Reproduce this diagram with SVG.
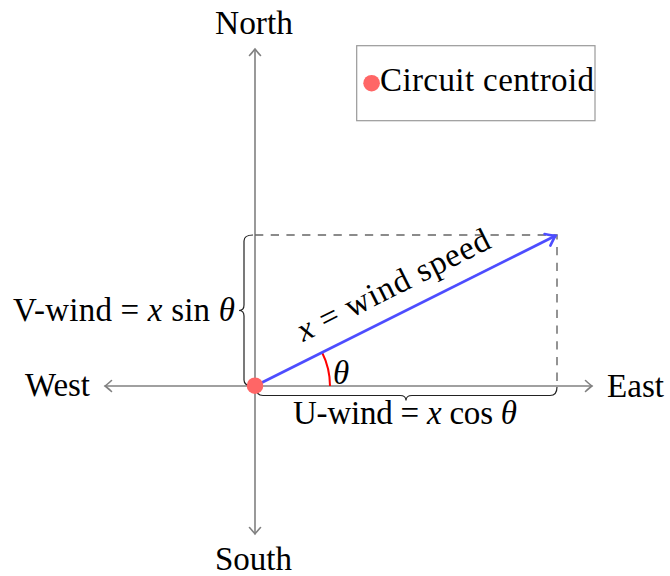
<svg xmlns="http://www.w3.org/2000/svg" width="670" height="576" viewBox="0 0 670 576">
  <style>
    text { font-family: "Liberation Serif", "DejaVu Serif", serif; font-size: 33px; fill: #000; }
    .it { font-style: italic; }
    .axis { stroke: #808080; stroke-width: 1.6; fill: none; }
    .dash { stroke: #666; stroke-width: 1.4; stroke-dasharray: 8.3 7.4; fill: none; }
    .brace { stroke: #222; stroke-width: 1.2; fill: none; }
    .vec { stroke: #4d4dff; stroke-width: 2.8; fill: none; }
  </style>
  <defs>
    <marker id="grayArrow" markerUnits="userSpaceOnUse" markerWidth="20" markerHeight="20" viewBox="-10 -10 20 20" refX="0" refY="0" orient="auto">
      <path d="M-6.5,-5.5 Q-1.8,-1.3 0,0 Q-1.8,1.3 -6.5,5.5" fill="none" stroke="#808080" stroke-width="1.6" stroke-linecap="round"/>
    </marker>
    <marker id="blueArrow" markerUnits="userSpaceOnUse" markerWidth="24" markerHeight="24" viewBox="-12 -12 24 24" refX="0" refY="0" orient="auto">
      <path d="M-9,-6.5 Q-2.5,-1.5 0,0 Q-2.5,1.5 -9,6.5" fill="none" stroke="#4d4dff" stroke-width="2.6" stroke-linecap="round"/>
    </marker>
  </defs>

  <g id="connectors">
    <line class="axis" x1="255" y1="386" x2="255" y2="49" marker-end="url(#grayArrow)"/>
    <line class="axis" x1="255" y1="386" x2="255" y2="534" marker-end="url(#grayArrow)"/>
    <line class="axis" x1="255" y1="386" x2="592" y2="386" marker-end="url(#grayArrow)"/>
    <line class="axis" x1="255" y1="386" x2="105" y2="386" marker-end="url(#grayArrow)"/>
    <path class="dash" d="M255,235 H557 V386"/>
    <path class="brace" d="M253,235 Q244,235 244,241 L244,305 Q244,310.5 239,310.5 Q244,310.5 244,316 L244,380 Q244,386 253,386"/>
    <path class="brace" d="M256,387 Q256,395.5 263,395.5 L400,395.5 Q406,395.5 406,400.5 Q406,395.5 412,395.5 L550,395.5 Q557,395.5 557,387"/>
    <path d="M330,386 A75,75 0 0 0 322.1,352.5" fill="none" stroke="#ff0000" stroke-width="2"/>
    <line class="vec" x1="255" y1="386" x2="555.5" y2="235.8" marker-end="url(#blueArrow)"/>
  </g>

  <g id="origin">
    <circle cx="255" cy="385.7" r="8.3" fill="#ff6666"/>
  </g>

  <g id="north"><text x="254" y="34" text-anchor="middle" textLength="78" lengthAdjust="spacingAndGlyphs">North</text></g>
  <g id="south"><text x="253.5" y="570" text-anchor="middle" textLength="77" lengthAdjust="spacingAndGlyphs">South</text></g>
  <g id="west"><text x="25" y="396" textLength="65" lengthAdjust="spacingAndGlyphs">West</text></g>
  <g id="east"><text x="607" y="396.5" textLength="57" lengthAdjust="spacingAndGlyphs">East</text></g>

  <g id="legend">
    <rect x="356.7" y="45.7" width="238.3" height="75" fill="#fff" stroke="#999" stroke-width="1.2"/>
    <circle cx="371.6" cy="83.2" r="8.3" fill="#ff6666"/>
    <text x="380" y="91" textLength="214" lengthAdjust="spacing">Circuit centroid</text>
  </g>

  <g id="v-wind-label"><text x="13" y="321" textLength="222" lengthAdjust="spacing">V-wind = <tspan class="it">x</tspan> sin <tspan class="it">θ</tspan></text></g>
  <g id="u-wind-label"><text x="293" y="424" textLength="224" lengthAdjust="spacing">U-wind = <tspan class="it">x</tspan> cos <tspan class="it">θ</tspan></text></g>
  <g id="theta-label"><text x="333" y="384" class="it">θ</text></g>
  <g id="speed-label"><text transform="translate(398,294.5) rotate(-26.565)" text-anchor="middle" textLength="212" lengthAdjust="spacing"><tspan class="it">x</tspan> = wind speed</text></g>
</svg>
